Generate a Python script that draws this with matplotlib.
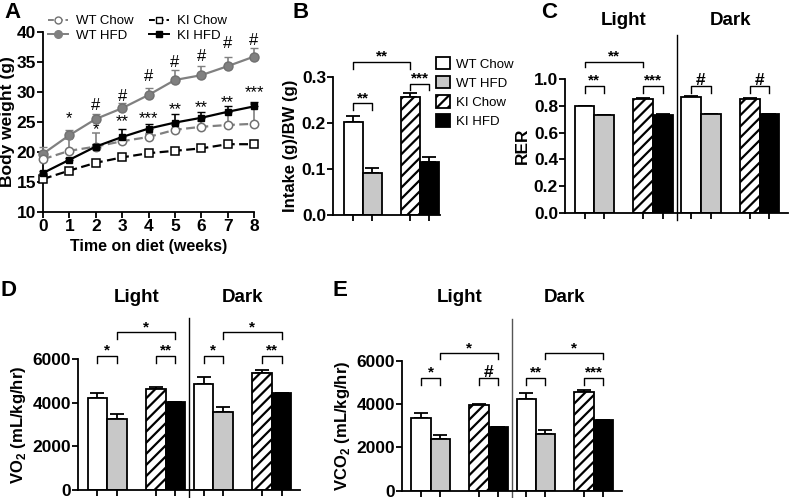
import numpy as np
import matplotlib
matplotlib.use("Agg")
import matplotlib.pyplot as plt
from matplotlib.patches import Patch
from matplotlib.lines import Line2D
from matplotlib.transforms import blended_transform_factory

plt.rcParams['font.family'] = ['Liberation Sans', 'DejaVu Sans']
plt.rcParams['font.weight'] = 'bold'
plt.rcParams['axes.labelweight'] = 'bold'
plt.rcParams['mathtext.fontset'] = 'custom'
plt.rcParams['mathtext.rm'] = 'Liberation Sans:bold'
plt.rcParams['mathtext.bf'] = 'Liberation Sans:bold'
plt.rcParams['hatch.linewidth'] = 1.6

# --- A : body weight ---
weeks = np.arange(0, 9)
wt_chow = [18.8, 20.2, 20.9, 21.8, 22.5, 23.7, 24.2, 24.5, 24.7]
wt_chow_err = [0.5, 2.0, 2.2, 0.6, 0.5, 0.8, 0.9, 2.0, 3.3]
wt_hfd = [19.7, 22.8, 25.5, 27.3, 29.5, 32.0, 32.8, 34.3, 35.9]
wt_hfd_err = [1.1, 0.8, 0.9, 0.9, 1.1, 1.6, 1.6, 1.6, 1.5]
ki_chow = [15.5, 16.9, 18.2, 19.1, 19.8, 20.2, 20.6, 21.3, 21.3]
ki_chow_err = [0.3, 0.3, 0.3, 0.3, 0.3, 0.3, 0.3, 0.3, 0.3]
ki_hfd = [16.5, 18.7, 20.9, 22.5, 23.9, 24.9, 25.7, 26.7, 27.6]
ki_hfd_err = [0.3, 0.3, 0.4, 1.4, 0.7, 1.4, 0.9, 0.9, 0.8]

sig_top_x = [1, 2, 3, 4, 5, 6, 7, 8]
sig_top = ['*', '#', '#', '#', '#', '#', '#', '#']
sig_top_y = [25.9, 27.8, 29.3, 32.7, 35.05, 35.9, 38.1, 38.6]
sig_low_x = [2, 3, 4, 5, 6, 7, 8]
sig_low = ['*', '**', '***', '**', '**', '**', '***']
sig_low_y = [23.95, 25.3, 25.9, 27.3, 27.7, 28.5, 30.2]

# --- B : food intake ---
groups = ['WT Chow', 'WT HFD', 'KI Chow', 'KI HFD']
intake = [0.202, 0.092, 0.256, 0.115]
intake_err = [0.014, 0.011, 0.009, 0.010]

# --- C : RER (light, dark) ---
rer_light = [0.80, 0.73, 0.855, 0.735]
rer_light_err = [0.003, 0.004, 0.003, 0.002]
rer_dark = [0.87, 0.737, 0.855, 0.737]
rer_dark_err = [0.002, 0.003, 0.002, 0.002]

# --- D : VO2 ---
vo2_light = [4210, 3270, 4640, 4010]
vo2_light_err = [230, 210, 90, 20]
vo2_dark = [4860, 3570, 5350, 4430]
vo2_dark_err = [300, 215, 135, 15]

# --- E : VCO2 ---
vco2_light = [3380, 2390, 3960, 2945]
vco2_light_err = [215, 185, 30, 10]
vco2_dark = [4225, 2620, 4580, 3270]
vco2_dark_err = [280, 185, 75, 10]

W, H = 793, 498
fig = plt.figure(figsize=(W / 100, H / 100), dpi=100)


def add_ax(x0, x1, ytop, ybot):
    ax = fig.add_axes([x0 / W, 1 - ybot / H, (x1 - x0) / W, (ybot - ytop) / H])
    for s in ['top', 'right']:
        ax.spines[s].set_visible(False)
    for s in ['left', 'bottom']:
        ax.spines[s].set_linewidth(1.3)
    ax.tick_params(width=1.3, length=4, labelsize=12.5, pad=1)
    return ax


def bold_ticks(ax):
    for t in ax.get_xticklabels() + ax.get_yticklabels():
        t.set_fontweight('bold')


def mark(ax, x, y, s, size=11, weight='normal', dy=2):
    ax.annotate(s, (x, y), xytext=(0, dy), textcoords='offset points',
                ha='center', va='baseline', fontsize=size, fontweight=weight,
                annotation_clip=False)


def bracket(ax, x1, x2, y, h, s, size=11):
    ax.plot([x1, x1, x2, x2], [y - h, y, y, y - h], color='black', lw=1.0,
            clip_on=False)
    mark(ax, (x1 + x2) / 2, y, s, size=size, weight='bold', dy=1.0)


faces = ['white', '#c8c8c8', 'white', 'black']
hatches = [None, None, '///', None]


def draw_bars(ax, pos, vals, errs):
    for p, v, e, fc, h in zip(pos, vals, errs, faces, hatches):
        ax.errorbar(p, v, yerr=[[0], [e]], fmt='none', ecolor='black',
                    capsize=5, elinewidth=1.3, capthick=1.3, zorder=1)
        ax.bar(p, v, width=1.0, color=fc, edgecolor='black', hatch=h,
               linewidth=1.3, zorder=2)


# ---------------- A ----------------
axA = add_ax(43, 254, 32, 212)
axA.errorbar(weeks, wt_hfd, yerr=[np.zeros(9), wt_hfd_err], color='#808080',
             lw=1.6, marker='o', ms=6.5, mfc='#808080', mec='#707070',
             capsize=3, elinewidth=1.2, label='WT HFD', clip_on=False, zorder=3)
axA.errorbar(weeks, wt_chow, yerr=[np.zeros(9), wt_chow_err], color='#808080',
             lw=1.6, ls='--', dashes=(4, 2), marker='o', ms=6, mfc='white',
             mec='#707070', mew=1.1, capsize=3, elinewidth=1.2,
             label='WT Chow', clip_on=False, zorder=4)
axA.errorbar(weeks, ki_chow, yerr=[np.zeros(9), ki_chow_err], color='black',
             lw=1.6, ls='--', dashes=(4, 2), marker='s', ms=6, mfc='white',
             mec='black', mew=1.1, capsize=3, elinewidth=1.2,
             label='KI Chow', clip_on=False, zorder=4)
axA.errorbar(weeks, ki_hfd, yerr=[np.zeros(9), ki_hfd_err], color='black',
             lw=1.6, marker='s', ms=4.5, mfc='black', mec='black',
             capsize=3, elinewidth=1.2, label='KI HFD', clip_on=False, zorder=5)
axA.set_xlim(0, 8)
axA.set_ylim(10, 40)
axA.set_xticks(weeks)
axA.set_yticks([10, 15, 20, 25, 30, 35, 40])
bold_ticks(axA)
axA.set_xlabel('Time on diet (weeks)', fontsize=11.5, labelpad=4)
axA.set_ylabel('Body weight (g)', fontsize=12.5, labelpad=1)
for x, s, y in zip(sig_top_x, sig_top, sig_top_y):
    mark(axA, x, y, s, size=12, dy=-4.5 if '*' in s else -3.5)
for x, s, y in zip(sig_low_x, sig_low, sig_low_y):
    mark(axA, x, y, s, size=12, dy=-4.5 if '*' in s else -3.5)

legA = [
    Line2D([], [], color='#808080', ls='--', dashes=(3, 1.5), marker='o', ms=5,
           mfc='white', mec='#707070', lw=1.4),
    Line2D([], [], color='#808080', marker='o', ms=5.5, mfc='#808080', lw=1.4),
    Line2D([], [], color='black', ls='--', dashes=(3, 1.5), marker='s', ms=5,
           mfc='white', mec='black', lw=1.4),
    Line2D([], [], color='black', marker='s', ms=4, mfc='black', lw=1.4),
]
fig.legend(legA, ['WT Chow', 'WT HFD', 'KI Chow', 'KI HFD'], ncol=2,
           loc='upper left', bbox_to_anchor=(48 / W, 1 - 15 / H), frameon=False,
           prop={'size': 9.5, 'weight': 'normal'}, handlelength=1.5,
           handletextpad=0.6, columnspacing=1.2, labelspacing=0.2,
           borderpad=0, borderaxespad=0)

# ---------------- B ----------------
axB = add_ax(333, 440, 77.3, 214.7)
posB = [0.5, 1.5, 3.5, 4.5]
draw_bars(axB, posB, intake, intake_err)
axB.set_xlim(-0.55, 5.05)
axB.set_ylim(0, 0.3)
axB.set_yticks([0.0, 0.1, 0.2, 0.3])
axB.set_yticklabels(['0.0', '0.1', '0.2', '0.3'])
axB.set_xticks(posB)
axB.set_xticklabels([])
bold_ticks(axB)
axB.set_ylabel('Intake (g)/BW (g)', fontsize=12, labelpad=3)
bracket(axB, 0.5, 1.5, 0.243, 0.015, '**')
bracket(axB, 3.5, 4.5, 0.286, 0.014, '***')
bracket(axB, 0.5, 3.5, 0.333, 0.015, '**')
handlesB = [Patch(facecolor=f, edgecolor='black', hatch=h, lw=1.3)
            for f, h in zip(faces, hatches)]
axB.legend(handlesB, groups, loc='upper left',
           bbox_to_anchor=(436 / W, 1 - 57 / H), bbox_transform=fig.transFigure,
           frameon=False, prop={'size': 9.5, 'weight': 'normal'},
           handlelength=1.05, handleheight=1.05, handletextpad=0.45,
           labelspacing=0.42, borderpad=0, borderaxespad=0)

# ---------------- C, D, E (light / dark) ----------------
pos_light = [0.5, 1.5, 3.5, 4.5]
pos_dark = [5.95, 6.95, 8.95, 9.95]
split = 5.22


def light_dark(ax, light, light_err, dark, dark_err, title_y, div_top,
               div_color='black'):
    draw_bars(ax, pos_light, light, light_err)
    draw_bars(ax, pos_dark, dark, dark_err)
    ax.set_xlim(-0.5, 10.9)
    ax.set_xticks(pos_light + pos_dark)
    ax.set_xticklabels([])
    ax.plot([split, split], [div_top[0], div_top[1]], color=div_color, lw=1.0,
            clip_on=False)
    tr = blended_transform_factory(ax.transData, fig.transFigure)
    ax.text(2.5, 1 - title_y / H, 'Light', transform=tr, ha='center',
            va='center', fontsize=13.5)
    ax.text(7.95, 1 - title_y / H, 'Dark', transform=tr, ha='center',
            va='center', fontsize=13.5)


axC = add_ax(565, 788, 79.3, 212.7)
axC.set_ylim(0, 1.0)
light_dark(axC, rer_light, rer_light_err, rer_dark, rer_dark_err, 20,
           (-0.055, 1.33))
axC.set_ylim(0, 1.0)
axC.set_yticks([0.0, 0.2, 0.4, 0.6, 0.8, 1.0])
axC.set_yticklabels(['0.0', '0.2', '0.4', '0.6', '0.8', '1.0'])
bold_ticks(axC)
axC.set_ylabel('RER', fontsize=12.5, labelpad=3)
bracket(axC, 0.5, 1.5, 0.95, 0.05, '**')
bracket(axC, 3.5, 4.5, 0.95, 0.05, '***')
bracket(axC, 0.5, 3.5, 1.13, 0.04, '**')
bracket(axC, 5.95, 6.95, 0.95, 0.05, '#', size=12.5)
bracket(axC, 8.95, 9.95, 0.95, 0.05, '#', size=12.5)

axD = add_ax(78, 300, 359, 490)
axD.set_ylim(0, 6000)
light_dark(axD, vo2_light, vo2_light_err, vo2_dark, vo2_dark_err, 298,
           (-600, 7880))
axD.set_ylim(0, 6000)
axD.set_yticks([0, 2000, 4000, 6000])
bold_ticks(axD)
axD.set_ylabel(r'VO$_\mathbf{2}$ (mL/kg/hr)', fontsize=12, labelpad=3)
bracket(axD, 0.5, 1.5, 6140, 340, '*')
bracket(axD, 3.5, 4.5, 6140, 340, '**')
bracket(axD, 1.5, 4.5, 7220, 320, '*')
bracket(axD, 5.95, 6.95, 6140, 340, '*')
bracket(axD, 8.95, 9.95, 6140, 340, '**')
bracket(axD, 6.95, 9.95, 7220, 320, '*')

axE = add_ax(401.7, 621.7, 361, 490.7)
axE.set_ylim(0, 6000)
light_dark(axE, vco2_light, vco2_light_err, vco2_dark, vco2_dark_err, 298,
           (-600, 7950), div_color='#555555')
axE.set_ylim(0, 6000)
axE.set_yticks([0, 2000, 4000, 6000])
bold_ticks(axE)
axE.set_ylabel(r'VCO$_\mathbf{2}$ (mL/kg/hr)', fontsize=12, labelpad=3)
bracket(axE, 0.5, 1.5, 5200, 310, '*')
bracket(axE, 3.5, 4.5, 5200, 310, '#', size=12.5)
bracket(axE, 1.5, 4.5, 6350, 280, '*')
bracket(axE, 5.95, 6.95, 5200, 310, '**')
bracket(axE, 8.95, 9.95, 5200, 310, '***')
bracket(axE, 6.95, 9.95, 6350, 280, '*')

# panel letters
for s, x, y in [('A', 4, 12), ('B', 292, 12), ('C', 541, 12),
                ('D', 1, 290), ('E', 333, 290)]:
    fig.text(x / W, 1 - y / H, s, fontsize=16, fontweight='bold', va='center')

fig.savefig('out.png', dpi=100)
